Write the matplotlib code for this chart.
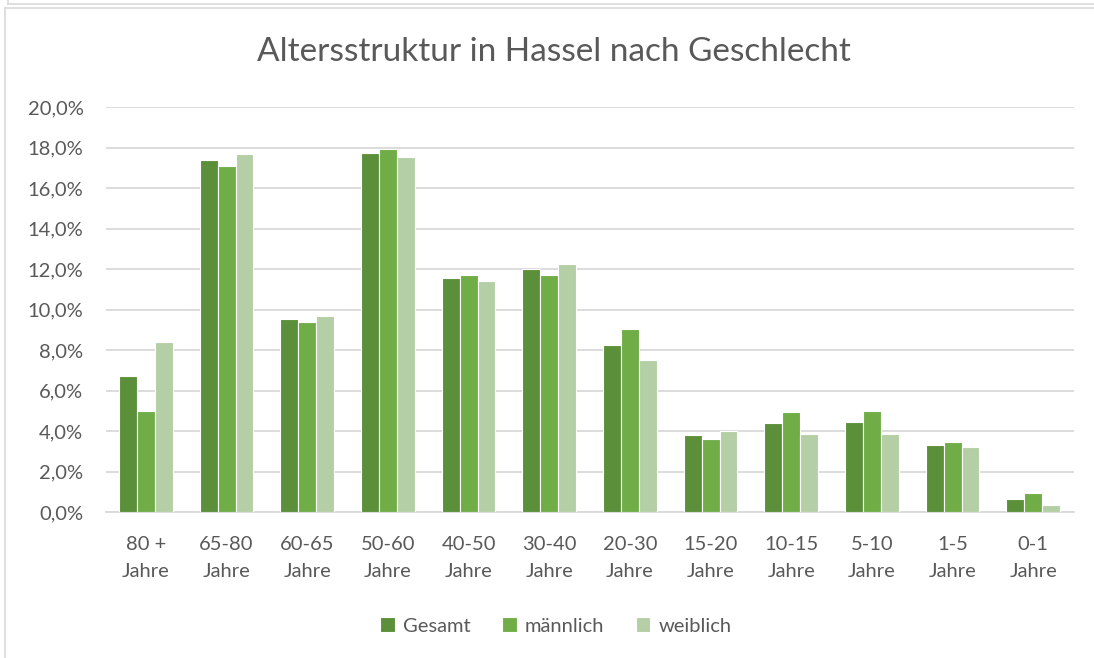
import matplotlib
matplotlib.use('Agg')
import matplotlib.pyplot as plt
import numpy as np
from matplotlib.lines import Line2D
from matplotlib.ticker import FuncFormatter

# Daten (in Prozent)
kategorien = ['80 +\nJahre', '65-80\nJahre', '60-65\nJahre', '50-60\nJahre', '40-50\nJahre',
              '30-40\nJahre', '20-30\nJahre', '15-20\nJahre', '10-15\nJahre', '5-10\nJahre',
              '1-5\nJahre', '0-1\nJahre']
gesamt = [6.74, 17.38, 9.54, 17.74, 11.55, 11.99, 8.25, 3.82, 4.38, 4.42, 3.33, 0.66]
maennlich = [4.99, 17.11, 9.36, 17.93, 11.69, 11.71, 9.03, 3.62, 4.93, 5.01, 3.44, 0.92]
weiblich = [8.38, 17.66, 9.70, 17.54, 11.40, 12.25, 7.53, 4.02, 3.84, 3.84, 3.21, 0.36]
serien = ['Gesamt', 'männlich', 'weiblich']
farben = ['#5B8F3A', '#70AD47', '#B4CFA5']

plt.rcParams['font.family'] = ['Lato', 'DejaVu Sans']
textfarbe = '#595959'
gitter = '#D9D9D9'

W, H = 1094, 658
fig = plt.figure(figsize=(W / 100, H / 100), dpi=100)

# Rahmen des Diagramms
fig.add_artist(Line2D([5 / W, 5 / W], [0, 1 - 8 / H], color=gitter, lw=1.2))
fig.add_artist(Line2D([5 / W, 1], [1 - 8 / H, 1 - 8 / H], color=gitter, lw=1.2))
fig.add_artist(Line2D([8 / W, 1], [1 - 4 / H, 1 - 4 / H], color=gitter, lw=1.2))
fig.add_artist(Line2D([8 / W, 8 / W], [1 - 4 / H, 1], color=gitter, lw=1.2))

ax = fig.add_axes([105.6 / W, (H - 512) / H, 968 / W, 405 / H])

x = np.arange(len(kategorien))
breite = 0.222
for i, (name, werte) in enumerate(zip(serien, [gesamt, maennlich, weiblich])):
    ax.bar(x + (i - 1) * breite, werte, breite, color=farben[i], label=name,
           edgecolor='white', linewidth=0.8, zorder=3)

ax.set_xlim(-0.5, len(kategorien) - 0.5)
ax.set_ylim(0, 20)
ax.set_yticks(np.arange(0, 21, 2))
ax.yaxis.set_major_formatter(FuncFormatter(lambda v, p: ('%.1f%%' % v).replace('.', ',')))
ax.set_xticks(x)
ax.set_xticklabels(kategorien, linespacing=1.75)
ax.grid(axis='y', color=gitter, lw=1.3, zorder=0)
for s in ['top', 'right', 'left']:
    ax.spines[s].set_visible(False)
ax.spines['bottom'].set_color(gitter)
ax.spines['bottom'].set_linewidth(1.3)
ax.tick_params(axis='both', length=0, labelsize=14.5, colors=textfarbe)
ax.tick_params(axis='x', pad=17)
ax.tick_params(axis='y', pad=16)

fig.text(554 / W, 1 - 52 / H, 'Altersstruktur in Hassel nach Geschlecht', ha='center', va='center',
         fontsize=24, color=textfarbe)

fig.legend(loc='center', bbox_to_anchor=(556 / W, 1 - 626 / H), ncol=3, frameon=False,
           fontsize=14.5, labelcolor=textfarbe, handlelength=0.7, handleheight=0.7,
           handletextpad=0.4, columnspacing=1.6)

plt.savefig('out.png', dpi=100)
